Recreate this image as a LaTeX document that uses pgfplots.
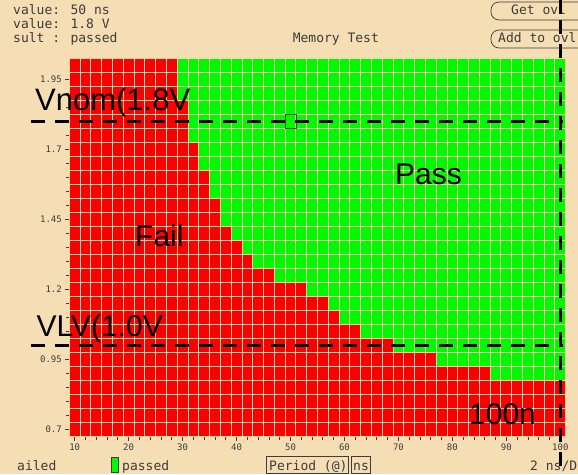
\documentclass[border=0pt]{standalone}
\usepackage{pgfplots}
\pgfplotsset{compat=1.18}
\usepackage{pgfplotstable}
\usepackage{fontspec}
\setmainfont{Liberation Sans}
\newfontfamily\monof{DejaVu Sans Mono}
\definecolor{bg}{RGB}{245,222,179}
\definecolor{cellred}{RGB}{250,0,0}
\definecolor{cellgreen}{RGB}{0,248,0}
\definecolor{gridc}{RGB}{245,210,165}
\definecolor{framec}{RGB}{70,80,70}
\definecolor{uitext}{RGB}{60,60,60}
\definecolor{cursor}{RGB}{30,90,30}

% shmoo: for each supply voltage v, cells with period < fail fail, the rest pass
\pgfplotstableread{
v    fail  last
2.00 29 101
1.95 29 101
1.90 29 101
1.85 31 101
1.80 31 101
1.75 31 101
1.70 33 101
1.65 33 101
1.60 35 101
1.55 35 101
1.50 37 101
1.45 37 101
1.40 39 101
1.35 41 101
1.30 43 101
1.25 47 101
1.20 53 101
1.15 57 101
1.10 59 101
1.05 63 101
1.00 69 101
0.95 77 101
0.90 87 101
0.85 101 101
0.80 101 101
0.75 101 101
0.70 101 101
}\shmoo

\begin{document}
\begin{tikzpicture}[x=1pt,y=1pt]
\fill[bg] (0,0) rectangle (578,474);
\path[use as bounding box] (0,0) rectangle (578,474);
\begin{axis}[
  at={(69.3pt,37.3pt)}, anchor=south west,
  scale only axis, width=496.4pt, height=378.4pt,
  xmin=9, xmax=101, ymin=0.675, ymax=2.025,
  axis on top,
  axis line style={draw=framec, line width=0.8pt},
  xtick={10,20,30,40,50,60,70,80,90,100}, minor x tick num=4,
  ytick={0.7,0.95,1.2,1.45,1.7,1.95}, minor y tick num=4,
  xtick pos=bottom, ytick pos=left, tick align=outside,
  major tick length=4pt, minor tick length=3pt,
  tick style={draw=uitext, line width=0.8pt},
  tick label style={font=\monof\fontsize{9}{9}\selectfont, text=uitext},
  /pgf/number format/assume math mode=true,
  extra x ticks={9,11,...,101}, extra x tick labels={},
  extra y ticks={0.675,0.725,0.775,0.825,0.875,0.925,0.975,1.025,1.075,1.125,1.175,1.225,1.275,1.325,1.375,1.425,1.475,1.525,1.575,1.625,1.675,1.725,1.775,1.825,1.875,1.925,1.975,2.025},
  extra y tick labels={},
  extra tick style={grid=major, major tick length=0pt, major grid style={draw=gridc, line width=0.9pt}},
]
\addplot[xbar, bar width=0.05, bar shift=0pt, fill=cellgreen, draw=none] table[x=last, y=v] {\shmoo};
\addplot[xbar, bar width=0.05, bar shift=0pt, fill=cellred, draw=none] table[x=fail, y=v] {\shmoo};
\addplot[only marks, mark=square, mark size=5.5pt, mark options={draw=cursor, fill=none, line width=0.8pt, yscale=1.3}] coordinates {(50,1.8)};
\coordinate (h18) at (axis cs:9,1.8);
\coordinate (h10) at (axis cs:9,1.0);
\coordinate (v100) at (axis cs:100,0.675);
\end{axis}
% dashed reference lines
\begin{scope}[line width=3.2pt, dash pattern=on 14pt off 10pt, black]
\draw (31,0 |- h18) -- (563,0 |- h18);
\draw (31,0 |- h10) -- (563,0 |- h10);
\draw (v100 |- 0,454) -- (v100 |- 0,0);
\end{scope}
% large annotations
\node[anchor=base west, inner sep=0, font=\fontsize{31}{31}\selectfont] at (35,363) {Vnom(1.8V};
\node[anchor=base west, inner sep=0, font=\fontsize{30}{30}\selectfont] at (36.5,137.3) {VLV(1.0V};
\node[anchor=base west, inner sep=0, font=\fontsize{30}{30}\selectfont] at (395,289) {Pass};
\node[anchor=base west, inner sep=0, font=\fontsize{30}{30}\selectfont] at (135,227.3) {Fail};
\node[anchor=base west, inner sep=0, font=\fontsize{30}{30}\selectfont] at (469,50) {100n};
% UI text
\begin{scope}[every node/.style={anchor=base west, inner sep=0, font=\monof\fontsize{13}{13}\selectfont, text=uitext}]
\node at (13,459) {value: 50 ns};
\node at (13,445) {value: 1.8 V};
\node at (13,431) {sult : passed};
\node at (292.6,431) {Memory Test};
\draw[uitext, line width=0.7pt, rounded corners=8pt] (620,454) -- (491,454) -- (491,472) -- (620,472);
\draw[uitext, line width=0.7pt, rounded corners=8pt] (620,426) -- (491,426) -- (491,444) -- (620,444);
\node at (511,459) {Get ovl};
\node at (498,431) {Add to ovl};
\node at (17,4) {ailed};
\filldraw[fill=cellgreen, draw=uitext, line width=0.6pt] (111,2) rectangle (118,17);
\node at (122,4) {passed};
\draw[uitext, line width=0.7pt] (266,1) rectangle (348,18);
\node at (269,4) {Period (@)};
\draw[uitext, line width=0.7pt] (351,1) rectangle (370,18);
\node at (353,4) {ns};
\node at (530,4) {2 ns/D};
\end{scope}
\draw[black, line width=3.2pt, dash pattern=on 14pt off 10pt] (v100 |- 0,474) -- (v100 |- 0,454);
\end{tikzpicture}
\end{document}
